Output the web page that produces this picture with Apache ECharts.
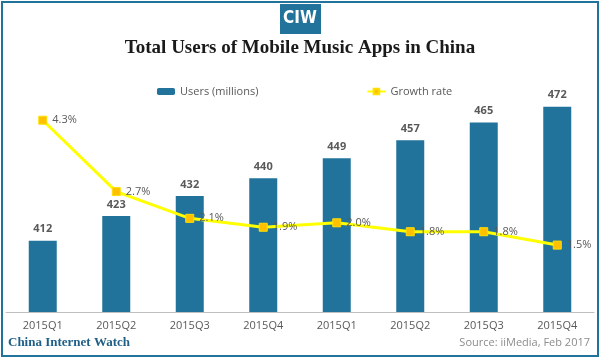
<!DOCTYPE html>
<html>
<head>
<meta charset="utf-8">
<script src="https://cdn.jsdelivr.net/npm/echarts@6/dist/echarts.min.js"></script>
<style>html,body{margin:0;padding:0;background:#fff;}#c{width:600px;height:359px;}</style>
</head>
<body>
<div id="c"></div>
<script>
const categories = ['2015Q1','2015Q2','2015Q3','2015Q4','2015Q1','2015Q2','2015Q3','2015Q4'];
const users = [412, 423, 432, 440, 449, 457, 465, 472];
const growth = [4.3, 2.7, 2.1, 1.9, 2.0, 1.8, 1.8, 1.5];

const blue = '#21739b';
const grey = '#595959';
const chart = echarts.init(document.getElementById('c'));
chart.setOption({
  animation: false,
  backgroundColor: '#fff',
  title: {
    text: 'Total Users of Mobile Music Apps in China',
    left: 'center', top: 34,
    textStyle: { fontFamily: 'Liberation Serif', fontWeight: 'bold', fontSize: 19, color: '#1a1a1a' }
  },
  legend: {
    left: 152, top: 81, itemGap: 108, itemWidth: 18, itemHeight: 7,
    textStyle: { fontFamily: 'Open Sans', fontSize: 11, color: grey },
    data: ['Users (millions)', 'Growth rate']
  },
  grid: { left: 6, right: 6, top: 89, bottom: 47 },
  xAxis: {
    type: 'category', data: categories,
    axisLine: { lineStyle: { color: '#bfbfbf', width: 1 } },
    axisTick: { show: false },
    axisLabel: { color: grey, fontFamily: 'Open Sans', fontSize: 11, margin: 8 }
  },
  yAxis: [
    { type: 'value', min: 380, max: 480, show: false },
    { type: 'value', min: 0, max: 5, show: false }
  ],
  series: [
    {
      name: 'Users (millions)', type: 'bar', data: users, barWidth: 28,
      itemStyle: { color: blue },
      label: { show: true, position: 'top', distance: 6, color: grey, fontFamily: 'Open Sans', fontSize: 11, fontWeight: 'bold' }
    },
    {
      name: 'Growth rate', type: 'line', yAxisIndex: 1, data: growth,
      symbol: 'rect', symbolSize: 8,
      lineStyle: { color: '#ffff00', width: 3 },
      itemStyle: { color: '#ffc000', borderColor: '#ffe000', borderWidth: 1 },
      label: { show: true, position: 'right', distance: 5, color: grey, fontFamily: 'Open Sans', fontSize: 11,
        formatter: p => p.value.toFixed(1) + '%' }
    }
  ],
  graphic: [
    { type: 'rect', shape: { x: 2, y: 2, width: 596, height: 354 }, style: { fill: null, stroke: blue, lineWidth: 2 }, z: 100 },
    { type: 'rect', shape: { x: 280, y: 4, width: 41, height: 30 }, style: { fill: blue }, z: 101 },
    { type: 'text', left: 'center', top: 10, z: 102,
      style: { text: 'CIW', fill: '#fff', font: 'bold 17px "Liberation Sans Narrow", "DejaVu Sans Condensed", sans-serif' } },
    { type: 'text', left: 8, top: 336, z: 102,
      style: { text: 'China Internet Watch', fill: '#1f5f87', font: 'bold 13px "Liberation Serif", serif' } },
    { type: 'text', right: 10, top: 337, z: 102,
      style: { text: 'Source: iiMedia, Feb 2017', fill: '#8c8c8c', font: '11px "Open Sans", sans-serif' } }
  ]
});
</script>
</body>
</html>
